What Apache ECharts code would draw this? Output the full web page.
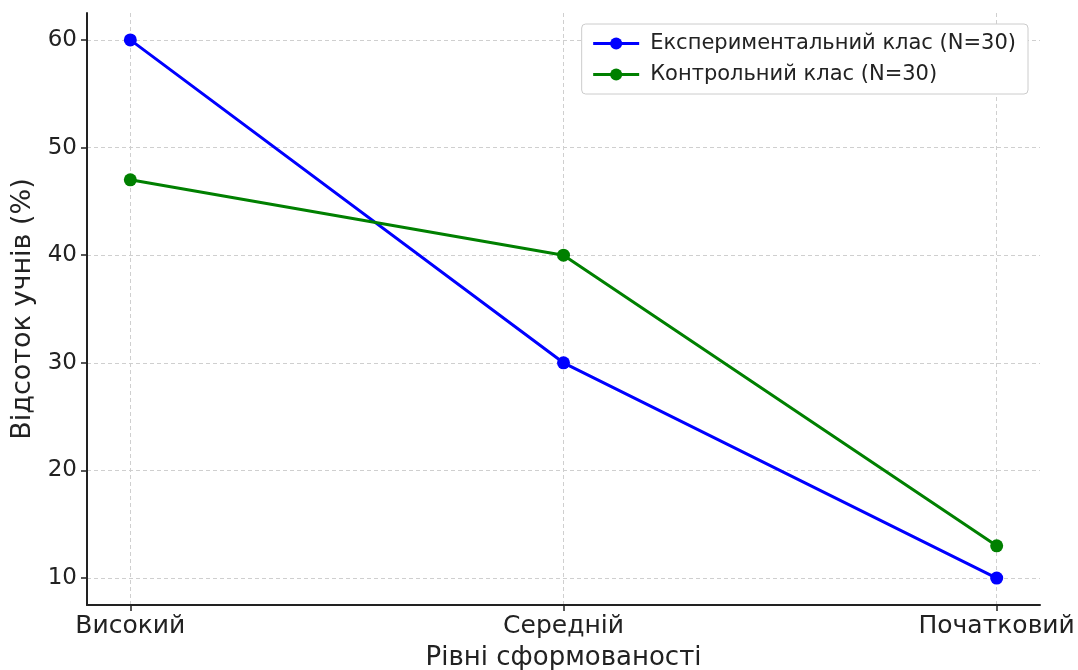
<!DOCTYPE html>
<html><head><meta charset="utf-8">
<script src="https://cdn.jsdelivr.net/npm/echarts@6/dist/echarts.min.js"></script>
<style>html,body{margin:0;padding:0;background:#fff}#c{width:1078px;height:670px}</style>
</head><body><div id="c"></div>
<script>
const categories = ['Високий', 'Середній', 'Початковий'];
const expValues = [60, 30, 10];
const ctrlValues = [47, 40, 13];
const yTicks = [10, 20, 30, 40, 50, 60];
const seriesNames = ['Експериментальний клас (N=30)', 'Контрольний клас (N=30)'];
const xTitle = 'Рівні сформованості';
const yTitle = 'Відсоток учнів (%)';

const xIdx = categories.map((_, i) => i);
const font = 'DejaVu Sans';
const chart = echarts.init(document.getElementById('c'), null, {renderer: 'canvas'});
const split = {show: true, lineStyle: {color: '#cfcfcf', type: [4, 3], width: 1}};
chart.setOption({
  backgroundColor: '#fff',
  animation: false,
  grid: {left: 87, right: 38, top: 13, bottom: 65, outerBoundsMode: 'none'},
  legend: {
    right: 50, top: 24,
    orient: 'vertical',
    backgroundColor: '#fff',
    borderColor: '#cccccc', borderWidth: 1, borderRadius: 4,
    padding: [9, 12, 9, 10],
    itemGap: 10, itemWidth: 46, itemHeight: 15,
    lineStyle: {width: 3},
    textStyle: {fontFamily: font, fontSize: 21, color: '#222', padding: [0, 0, 0, 6]},
    data: seriesNames
  },
  xAxis: {
    type: 'value', min: -0.1, max: 2.1,
    axisLine: {show: true, onZero: false, lineStyle: {color: '#222', width: 2}},
    axisTick: {show: true, customValues: xIdx, length: 6, lineStyle: {color: '#222', width: 1.5}},
    axisLabel: {customValues: xIdx, formatter: v => categories[Math.round(v)] || '', fontFamily: font, fontSize: 25, color: '#222', margin: 9},
    splitLine: split,
    name: xTitle, nameLocation: 'middle', nameGap: 40,
    nameTextStyle: {fontFamily: font, fontSize: 26, color: '#222'}
  },
  yAxis: {
    type: 'value', min: 7.5, max: 62.5,
    axisLine: {show: true, onZero: false, lineStyle: {color: '#222', width: 2}},
    axisTick: {show: true, customValues: yTicks, length: 6, lineStyle: {color: '#222', width: 1.5}},
    axisLabel: {customValues: yTicks, fontFamily: font, fontSize: 23, color: '#222', margin: 10},
    splitLine: split,
    name: yTitle, nameLocation: 'middle', nameGap: 48,
    nameTextStyle: {fontFamily: font, fontSize: 27, color: '#222'}
  },
  series: [
    {name: seriesNames[0], type: 'line', data: xIdx.map(i => [i, expValues[i]]),
     symbol: 'circle', symbolSize: 13, color: '#0000ff', lineStyle: {width: 3, color: '#0000ff'}, itemStyle: {color: '#0000ff'}},
    {name: seriesNames[1], type: 'line', data: xIdx.map(i => [i, ctrlValues[i]]),
     symbol: 'circle', symbolSize: 13, color: '#008000', lineStyle: {width: 3, color: '#008000'}, itemStyle: {color: '#008000'}}
  ]
});
</script></body></html>
